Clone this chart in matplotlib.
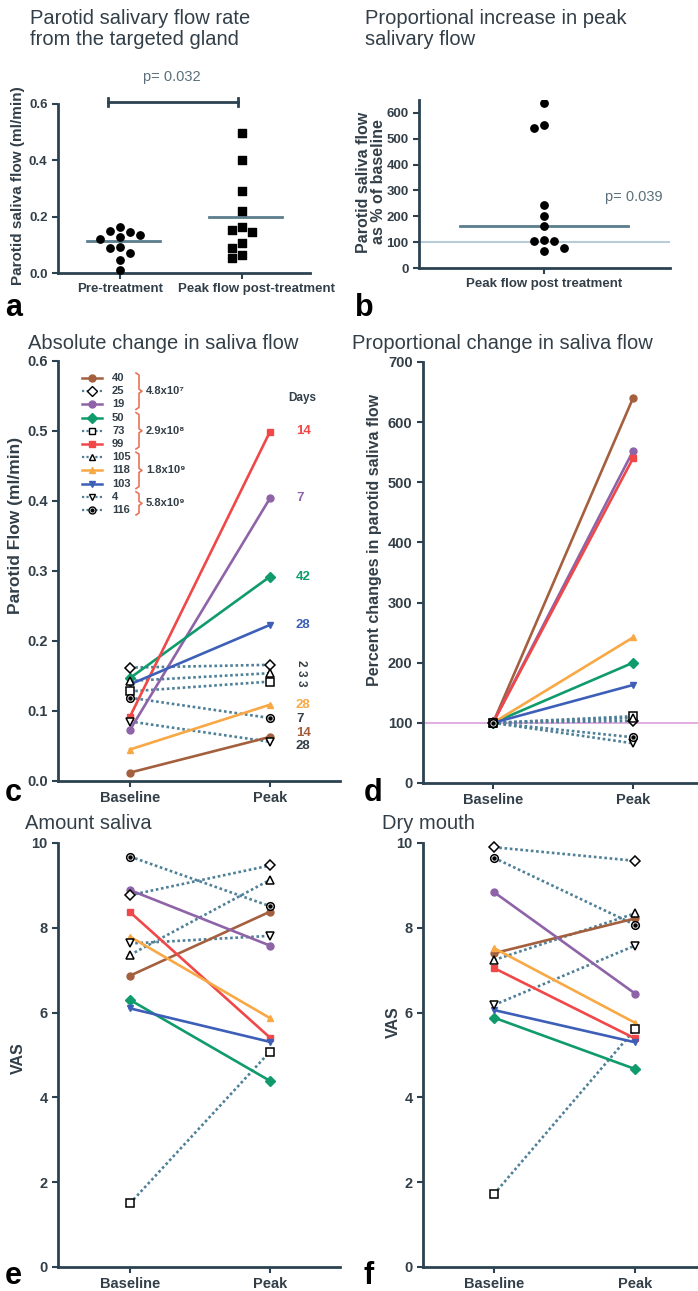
import matplotlib
matplotlib.use("Agg")
import matplotlib.pyplot as plt
import matplotlib.transforms as mtrans
import numpy as np
from matplotlib.lines import Line2D

plt.rcParams['font.family'] = ['Liberation Sans', 'DejaVu Sans']

W, H = 698, 1291
AX_COL = '#2d4250'
TXT = '#333f48'

# ---- panel a / b data ----
pre_flow = [0.148, 0.136, 0.164, 0.144, 0.119, 0.128, 0.087, 0.072, 0.093, 0.046, 0.012]
peak_flow = [0.496, 0.401, 0.291, 0.221, 0.164, 0.146, 0.154, 0.108, 0.089, 0.055, 0.063]
a_lines = [0.115, 0.20]
a_cats = ['Pre-treatment', 'Peak flow post-treatment']
peak_pct = [640, 540, 552, 243, 200, 163, 108, 106, 103, 76, 66]
b_line = 163

# ---- subjects (panels c-f) ----
ids = ['40', '25', '19', '50', '73', '99', '105', '118', '103', '4', '116']
colors = ['#a4603e', 'k', '#8e63a8', '#0f9b6c', 'k', '#f04848', 'k', '#f8a844', '#3d5fb8', 'k', 'k']
markers = ['o', 'D', 'o', 'D', 's', 's', '^', '^', 'v', 'v', 'o']
dotted = [False, True, False, False, True, False, True, False, False, True, True]
doses = ['4.8x10⁷', '2.9x10⁸', '1.8x10⁹', '5.8x10⁹']
dose_rows = [(0, 2), (3, 5), (6, 8), (9, 10)]

c_base = [0.012, 0.162, 0.073, 0.147, 0.128, 0.092, 0.143, 0.045, 0.138, 0.085, 0.119]
c_peak = [0.063, 0.166, 0.404, 0.292, 0.142, 0.499, 0.154, 0.109, 0.223, 0.056, 0.090]
d_base = [100] * 11
d_peak = [640, 103, 552, 200, 111, 540, 108, 242, 163, 66, 76]
e_base = [6.87, 8.77, 8.89, 6.30, 1.50, 8.37, 7.36, 7.79, 6.10, 7.63, 9.68]
e_peak = [8.38, 9.47, 7.58, 4.39, 5.08, 5.41, 9.13, 5.87, 5.31, 7.81, 8.51]
f_base = [7.40, 9.90, 8.84, 5.88, 1.72, 7.05, 7.24, 7.52, 6.06, 6.18, 9.65]
f_peak = [8.22, 9.58, 6.45, 4.67, 5.61, 5.39, 8.34, 5.76, 5.30, 7.58, 8.07]
timepoints = ['Baseline', 'Peak']

# days labels at the right of panel c
days = [('14', '#f04848'), ('7', '#8e63a8'), ('42', '#0f9b6c'), ('28', '#3d5fb8'),
        ('28', '#f8a844'), ('7', TXT), ('14', '#a4603e'), ('28', TXT)]


def rect(l, r, top, bot):
    return [l / W, 1 - bot / H, (r - l) / W, (bot - top) / H]


def fx(x):
    return x / W


def fy(y):
    return 1 - y / H


fig = plt.figure(figsize=(W / 100, H / 100), dpi=100)


def style(ax, tick_fs=10.5):
    for s in ['top', 'right']:
        ax.spines[s].set_visible(False)
    for s in ['left', 'bottom']:
        ax.spines[s].set_color(AX_COL)
        ax.spines[s].set_linewidth(2)
    ax.tick_params(colors=AX_COL, width=1.5, length=4, labelsize=tick_fs, labelcolor=TXT)
    for lab in ax.get_xticklabels() + ax.get_yticklabels():
        lab.set_fontweight('bold')


def swarm(vals, px_per_unit, step_px, diam_px):
    # simple beeswarm: returns horizontal offsets in units of step
    placed = []
    offs = [0] * len(vals)
    order = np.argsort(vals)[::-1]
    for i in order:
        y = vals[i] * px_per_unit
        for k in [0, -1, 1, 2, -2, 3, -3]:
            ok = True
            for (px, py) in placed:
                if (k * step_px - px) ** 2 + (y - py) ** 2 < diam_px ** 2:
                    ok = False
                    break
            if ok:
                placed.append((k * step_px, y))
                offs[i] = k
                break
    return offs


# ---------------- panel a ----------------
ax = fig.add_axes(rect(58, 310, 104, 273))
ax.set_ylim(0, 0.6)
ax.set_xlim(-0.508, 1.557)
ax.set_yticks([0, 0.2, 0.4, 0.6])
ax.set_yticklabels(['0.0', '0.2', '0.4', '0.6'])
ax.set_xticks([0, 1])
ax.set_xticklabels(a_cats, fontsize=8.4)
style(ax, 9.5)
# the second category label sits a bit to the right of its tick, as in the original
lab2 = ax.get_xticklabels()[1]
lab2.set_transform(lab2.get_transform() + mtrans.ScaledTranslation(0.14, 0, fig.dpi_scale_trans))
step = 10 / 122
o1 = swarm(pre_flow, 169 / 0.6, 10, 9)
o2 = swarm(peak_flow, 169 / 0.6, 10, 9)
ax.scatter(np.array(o1) * step, pre_flow, s=28, marker='o', color='k', zorder=3, clip_on=False)
ax.scatter(1 + np.array(o2) * step, peak_flow, s=26, marker='s', color='k', zorder=3, clip_on=False)
for i, m in enumerate(a_lines):
    ax.plot([i - 0.27, i + 0.33], [m, m], color='#5b7d8c', lw=2, zorder=2)
# significance bracket
ax.plot([-0.1, 0.97], [0.607, 0.607], color=AX_COL, lw=2, clip_on=False)
for xb in [-0.1, 0.97]:
    ax.plot([xb, xb], [0.593, 0.621], color=AX_COL, lw=2, clip_on=False)
fig.text(fx(172), fy(77), 'p= 0.032', ha='center', va='center', fontsize=10.5, color='#5a6f7a')
fig.text(fx(18), fy(186), 'Parotid saliva flow (ml/min)', rotation=90, ha='center', va='center',
         fontsize=11, fontweight='bold', color=TXT)
fig.text(fx(30), fy(9), 'Parotid salivary flow rate\nfrom the targeted gland', fontsize=14.5,
         color=TXT, va='top', linespacing=1.15)

# ---------------- panel b ----------------
ax = fig.add_axes(rect(419, 670, 100, 268))
ax.set_ylim(0, 650)
ax.set_xlim(-1, 1.008)
ax.set_yticks(range(0, 601, 100))
ax.set_xticks([0])
ax.set_xticklabels(['Peak flow post treatment'], fontsize=12.5)
style(ax, 9.5)
ax.spines['left'].set_bounds(0, 650)
ob = swarm(peak_pct, 155 / 600, 10, 9)
ax.axhline(100, color='#b9ccd6', lw=1.5, zorder=1)
ax.scatter(np.array(ob) * 0.08, peak_pct, s=28, color='k', zorder=3)
ax.plot([-0.67, 0.67], [b_line, b_line], color='#5b7d8c', lw=2, zorder=2)
ax.text(0.49, 275, 'p= 0.039', fontsize=10.5, color='#5a6f7a', va='center')
fig.text(fx(371), fy(182), 'Parotid saliva flow\nas % of baseline', rotation=90, ha='center',
         va='center', fontsize=11.5, fontweight='bold', color=TXT, linespacing=1.0)
fig.text(fx(365), fy(9), 'Proportional increase in peak\nsalivary flow', fontsize=14.5,
         color=TXT, va='top', linespacing=1.15)

fig.text(fx(5), fy(316), 'a', fontsize=22, fontweight='bold', va='baseline')
fig.text(fx(355), fy(316), 'b', fontsize=22, fontweight='bold', va='baseline')


def draw_subject(ax, i, y0, y1, xs=(0, 1)):
    if dotted[i]:
        ax.plot(xs, [y0, y1], color='#4f8098', lw=1.9, ls=(0, (1, 1)), zorder=2, clip_on=False)
        ax.plot(xs, [y0, y1], ls='none', marker=markers[i], ms=5.5, mfc='white', mec='k',
                mew=1.1, zorder=4, clip_on=False)
        if ids[i] == '116':
            ax.plot(xs, [y0, y1], ls='none', marker='o', ms=2.2, color='k', zorder=5, clip_on=False)
    else:
        ax.plot(xs, [y0, y1], color=colors[i], lw=1.9, marker=markers[i], ms=5,
                mec=colors[i], zorder=3, clip_on=False)


def paired(ax, base, peak):
    order = [k for k in range(len(ids)) if dotted[k]] + [k for k in range(len(ids)) if not dotted[k]]
    for i in order:
        draw_subject(ax, i, base[i], peak[i])
    ax.set_xticks([0, 1])
    ax.set_xticklabels(timepoints, fontsize=11.5)


# ---------------- panel c ----------------
ax = fig.add_axes(rect(58, 340, 361, 781))
ax.set_ylim(0, 0.6)
ax.set_xlim(-0.514, 1.5)
ax.set_yticks(np.arange(0, 0.61, 0.1))
ax.set_yticklabels(['0.0', '0.1', '0.2', '0.3', '0.4', '0.5', '0.6'])
paired(ax, c_base, c_peak)
style(ax)
fig.text(fx(16), fy(525), 'Parotid Flow (ml/min)', rotation=90, ha='center', va='center',
         fontsize=12.5, fontweight='bold', color=TXT)
fig.text(fx(28), fy(349), 'Absolute change in saliva flow', fontsize=14.5, color=TXT, va='baseline')

# legend built by hand
row_y = [378 + 13.2 * k for k in range(len(ids))]
for i in range(len(ids)):
    y = fy(row_y[i])
    if dotted[i]:
        fig.add_artist(Line2D([fx(82), fx(102)], [y, y], color='#4f8098', lw=1.6, ls=(0, (1, 1))))
        fig.add_artist(Line2D([fx(92)], [y], marker=markers[i], ms=5, mfc='white', mec='k', mew=1))
        if ids[i] == '116':
            fig.add_artist(Line2D([fx(92)], [y], marker='o', ms=2, color='k'))
    else:
        fig.add_artist(Line2D([fx(82), fx(102)], [y, y], color=colors[i], lw=1.8))
        fig.add_artist(Line2D([fx(92)], [y], marker=markers[i], ms=5, color=colors[i]))
    fig.text(fx(112), y, ids[i], fontsize=8, fontweight='bold', color=TXT, va='center')
for (r0, r1), lab in zip(dose_rows, doses):
    t, b = row_y[r0] - 5, row_y[r1] + 5
    m = (t + b) / 2
    xs = [136, 139, 139, 142, 139, 139, 136]
    ys = [t, t + 2, m - 2, m, m + 2, b - 2, b]
    fig.add_artist(Line2D([fx(x) for x in xs], [fy(v) for v in ys], color='#e8735a', lw=1.2))
    fig.text(fx(146), fy(m), lab, fontsize=8, fontweight='bold', color=TXT, va='center')

fig.text(fx(288), fy(398), 'Days', fontsize=8.5, fontweight='bold', color=TXT, va='center')
day_y = [431, 498, 577, 625, 705, 719, 733, 746]
for (lab, col), yy in zip(days, day_y):
    fig.text(fx(296), fy(yy), lab, fontsize=9.5, fontweight='bold', color=col, va='center')
for lab, yy in zip(['2', '3', '3'], [663, 673, 683]):
    fig.text(fx(301), fy(yy), lab, fontsize=8.5, fontweight='bold', color=TXT, va='center',
             ha='center', rotation=-90)

# ---------------- panel d ----------------
ax = fig.add_axes(rect(423, 698, 362, 783))
ax.set_ylim(0, 700)
ax.set_xlim(-0.5, 1.464)
ax.set_yticks(range(0, 701, 100))
ax.axhline(100, color='#dca0dc', lw=1.2, zorder=1)
paired(ax, d_base, d_peak)
style(ax)
fig.text(fx(374), fy(540), 'Percent changes in parotid saliva flow', rotation=90, ha='center',
         va='center', fontsize=11.5, fontweight='bold', color=TXT)
fig.text(fx(352), fy(349), 'Proportional change in saliva flow', fontsize=14.5, color=TXT,
         va='baseline')

fig.text(fx(5), fy(801), 'c', fontsize=22, fontweight='bold', va='baseline')
fig.text(fx(364), fy(801), 'd', fontsize=22, fontweight='bold', va='baseline')

# ---------------- panel e ----------------
ax = fig.add_axes(rect(58, 340, 843, 1267))
ax.set_ylim(0, 10)
ax.set_xlim(-0.514, 1.5)
ax.set_yticks(range(0, 11, 2))
paired(ax, e_base, e_peak)
style(ax)
fig.text(fx(18), fy(1058), 'VAS', rotation=90, ha='center', va='center', fontsize=11.5,
         fontweight='bold', color=TXT)
fig.text(fx(25), fy(829), 'Amount saliva', fontsize=14.5, color=TXT, va='baseline')

# ---------------- panel f ----------------
ax = fig.add_axes(rect(423, 698, 843, 1267))
ax.set_ylim(0, 10)
ax.set_xlim(-0.504, 1.447)
ax.set_yticks(range(0, 11, 2))
paired(ax, f_base, f_peak)
style(ax)
fig.text(fx(393), fy(1022), 'VAS', rotation=90, ha='center', va='center', fontsize=11.5,
         fontweight='bold', color=TXT)
fig.text(fx(382), fy(829), 'Dry mouth', fontsize=14.5, color=TXT, va='baseline')

fig.text(fx(5), fy(1284), 'e', fontsize=22, fontweight='bold', va='baseline')
fig.text(fx(364), fy(1284), 'f', fontsize=22, fontweight='bold', va='baseline')

fig.savefig('out.png', dpi=100, facecolor='white')
